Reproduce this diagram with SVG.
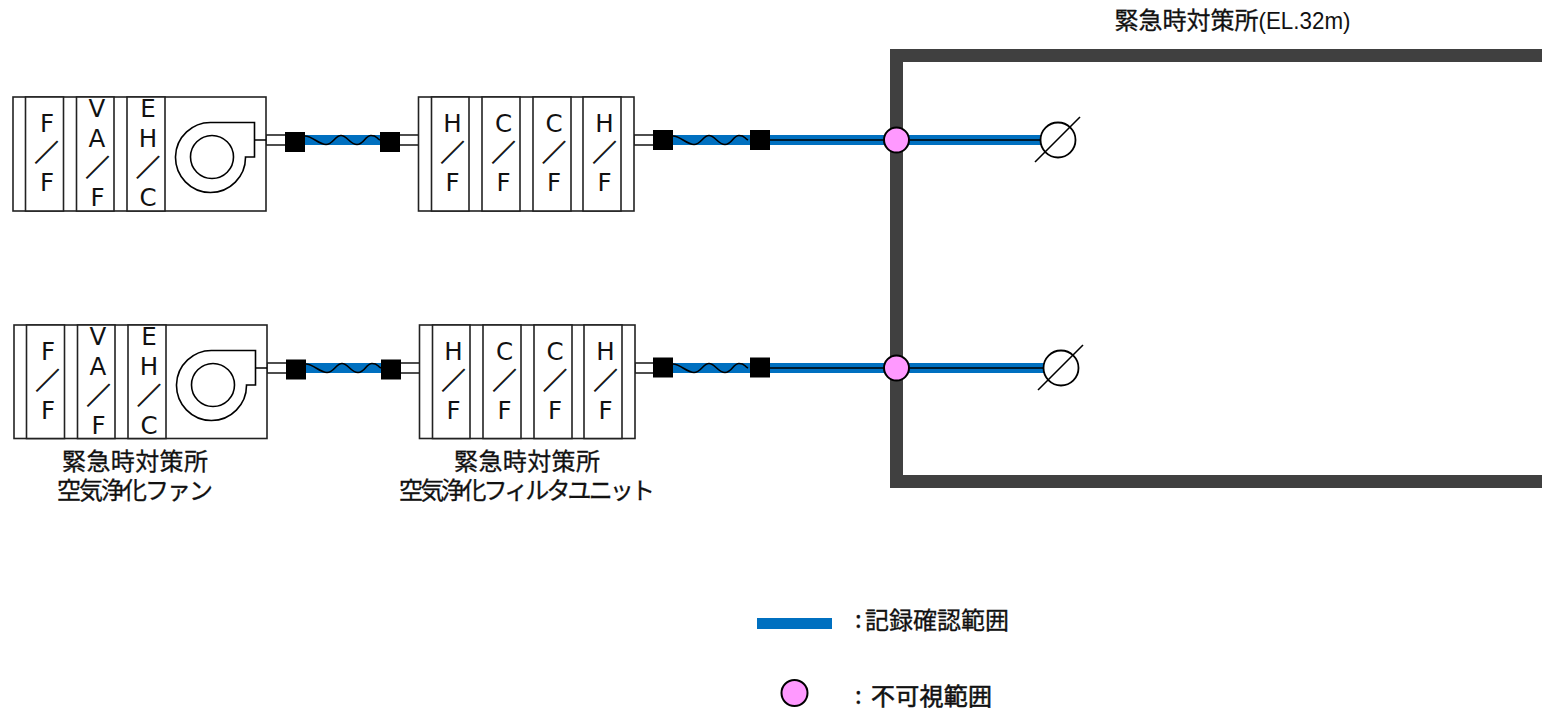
<svg xmlns="http://www.w3.org/2000/svg" xmlns:xlink="http://www.w3.org/1999/xlink" width="1542" height="710" viewBox="0 0 1542 710">
<style>
text{font-family:"Noto Sans CJK JP","Noto Sans",sans-serif;fill:#111;stroke:#111;stroke-width:.3;font-size:24px}
.l{font-family:"DejaVu Sans","Noto Sans",sans-serif;text-anchor:middle;font-size:24.500px;stroke-width:0}
.s{text-anchor:middle;font-size:24px;stroke-width:.8;opacity:.99}
.h{stroke-width:.55}
.t{font-family:"Liberation Sans",sans-serif;stroke-width:0}
.b{fill:#fff;stroke:#222;stroke-width:1.6}
.blue{fill:#0070c0}
.bk{fill:#000}
.ln{fill:none;stroke:#000;stroke-width:1.6}
.pink{fill:#ff99ff;stroke:#000;stroke-width:2}
</style>
<defs>
<path id="wave" class="ln" d="M0 136C7 136 14 144.500 21 144.500S30 135.500 36 135.500 45 144.500 52 144.500 60 135.500 66 135.500 71 138 75 140"/>
</defs>
<rect id="building" x="896.500" y="55.500" width="660" height="426" fill="none" stroke="#404040" stroke-width="13"/>
<g id="connectors">
<g id="duct-top">
<rect class="b" x="266" y="135" width="20" height="10"/>
<rect class="b" x="399" y="135" width="20" height="10"/>
<rect class="b" x="634" y="135" width="20" height="10"/>
<rect class="blue" x="304" y="135" width="77" height="10"/>
<rect class="blue" x="672" y="135" width="370" height="10"/>
<use xlink:href="#wave" x="305"/>
<use xlink:href="#wave" x="673"/>
<path class="ln" d="M770 140H1041"/>
<rect class="bk" x="285" y="132" width="20" height="20"/>
<rect class="bk" x="380" y="132" width="20" height="20"/>
<rect class="bk" x="653" y="130" width="20" height="20"/>
<rect class="bk" x="750" y="130" width="20" height="20"/>
</g>
<g id="duct-bottom">
<rect class="b" x="267" y="363" width="20" height="10"/>
<rect class="b" x="400" y="363" width="20" height="10"/>
<rect class="b" x="635" y="363" width="20" height="10"/>
<rect class="blue" x="305" y="363" width="77" height="10"/>
<rect class="blue" x="672" y="363" width="374" height="10"/>
<use xlink:href="#wave" x="306" y="228"/>
<use xlink:href="#wave" x="673" y="228"/>
<path class="ln" d="M770 368H1044"/>
<rect class="bk" x="286" y="359.500" width="20" height="20"/>
<rect class="bk" x="381" y="359.500" width="20" height="20"/>
<rect class="bk" x="653" y="357.500" width="20" height="20"/>
<rect class="bk" x="750" y="357.500" width="20" height="20"/>
</g>
</g>
<g id="fan-top">
<rect class="b" x="13" y="97" width="253" height="114"/>
<rect class="b" x="25.500" y="97" width="38" height="114"/>
<rect class="b" x="76.500" y="97" width="37.500" height="114"/>
<rect class="b" x="127" y="97" width="38" height="114"/>
<text class="l" x="47" y="132">F</text><text class="s" x="46.500" y="161">／</text><text class="l" x="47" y="191">F</text>
<text class="l" x="97" y="117">V</text><text class="l" x="97" y="147">A</text><text class="s" x="97.500" y="176">／</text><text class="l" x="97.500" y="206">F</text>
<text class="l" x="148" y="117">E</text><text class="l" x="148" y="147">H</text><text class="s" x="148" y="176">／</text><text class="l" x="148" y="206">C</text>
<path class="ln" d="M266 140H254.500M254.500 157V122.500H212A35 35 0 1 0 245.500 157Z"/>
<circle class="ln" cx="212" cy="157" r="21.500"/>
</g>
<g id="filter-top">
<rect class="b" x="418.500" y="97" width="215.500" height="114"/>
<rect class="b" x="431.500" y="97" width="37.500" height="114"/>
<rect class="b" x="482" y="97" width="38" height="114"/>
<rect class="b" x="533" y="97" width="38" height="114"/>
<rect class="b" x="583" y="97" width="38" height="114"/>
<text class="l" x="452.500" y="132">H</text><text class="s" x="452.500" y="161">／</text><text class="l" x="452.500" y="191">F</text>
<text class="l" x="503.500" y="132">C</text><text class="s" x="503.500" y="161">／</text><text class="l" x="503.500" y="191">F</text>
<text class="l" x="554" y="132">C</text><text class="s" x="554" y="161">／</text><text class="l" x="554" y="191">F</text>
<text class="l" x="604.500" y="132">H</text><text class="s" x="604.500" y="161">／</text><text class="l" x="604.500" y="191">F</text>
</g>
<g id="fan-bottom">
<rect class="b" x="14" y="325" width="253" height="113.500"/>
<rect class="b" x="26.500" y="325" width="38" height="113.500"/>
<rect class="b" x="77.500" y="325" width="37.500" height="113.500"/>
<rect class="b" x="128" y="325" width="38" height="113.500"/>
<text class="l" x="48" y="360">F</text><text class="s" x="47.500" y="389">／</text><text class="l" x="48" y="419">F</text>
<text class="l" x="98" y="345">V</text><text class="l" x="98" y="375">A</text><text class="s" x="98.500" y="404">／</text><text class="l" x="98.500" y="434">F</text>
<text class="l" x="149" y="345">E</text><text class="l" x="149" y="375">H</text><text class="s" x="149" y="404">／</text><text class="l" x="149" y="434">C</text>
<path class="ln" d="M267 368H255.500M255.500 385V350.500H213A35 35 0 1 0 246.500 385Z"/>
<circle class="ln" cx="213" cy="385" r="21.500"/>
</g>
<g id="filter-bottom">
<rect class="b" x="419.500" y="325" width="215.500" height="113.500"/>
<rect class="b" x="432.500" y="325" width="37.500" height="113.500"/>
<rect class="b" x="483" y="325" width="38" height="113.500"/>
<rect class="b" x="534" y="325" width="38" height="113.500"/>
<rect class="b" x="584" y="325" width="38" height="113.500"/>
<text class="l" x="453.500" y="360">H</text><text class="s" x="453.500" y="389">／</text><text class="l" x="453.500" y="419">F</text>
<text class="l" x="504.500" y="360">C</text><text class="s" x="504.500" y="389">／</text><text class="l" x="504.500" y="419">F</text>
<text class="l" x="555" y="360">C</text><text class="s" x="555" y="389">／</text><text class="l" x="555" y="419">F</text>
<text class="l" x="605.500" y="360">H</text><text class="s" x="605.500" y="389">／</text><text class="l" x="605.500" y="419">F</text>
</g>
<g id="penetration-top"><circle class="pink" cx="896.500" cy="140" r="12.500"/></g>
<g id="penetration-bottom"><circle class="pink" cx="896.500" cy="368" r="12.500"/></g>
<g id="outlet-top"><circle cx="1058" cy="140" r="17.500" fill="#fff" stroke="#000" stroke-width="1.800"/><path class="ln" d="M1035 162L1080 117"/></g>
<g id="outlet-bottom"><circle cx="1061" cy="368" r="17.500" fill="#fff" stroke="#000" stroke-width="1.800"/><path class="ln" d="M1038 390L1083 345"/></g>
<g id="label-fan"><text x="62" y="470" textLength="146">緊急時対策所</text><text x="57" y="499" textLength="156">空気浄化ファン</text></g>
<g id="label-filter"><text x="454" y="470" textLength="146">緊急時対策所</text><text x="399" y="499" textLength="256">空気浄化フィルタユニット</text></g>
<g id="label-building"><text x="1114.500" y="29">緊急時対策所</text><text class="t" x="1258.500" y="29" textLength="92" lengthAdjust="spacingAndGlyphs">(EL.32m)</text></g>
<g id="legend-range"><rect class="blue" x="757" y="618" width="75" height="11"/><text x="855" y="628">:</text><text x="865" y="629" textLength="144">記録確認範囲</text></g>
<g id="legend-invisible"><circle class="pink" cx="794.500" cy="693" r="13"/><text x="855" y="704">:</text><text class="h" x="871" y="705" textLength="121">不可視範囲</text></g>
</svg>
